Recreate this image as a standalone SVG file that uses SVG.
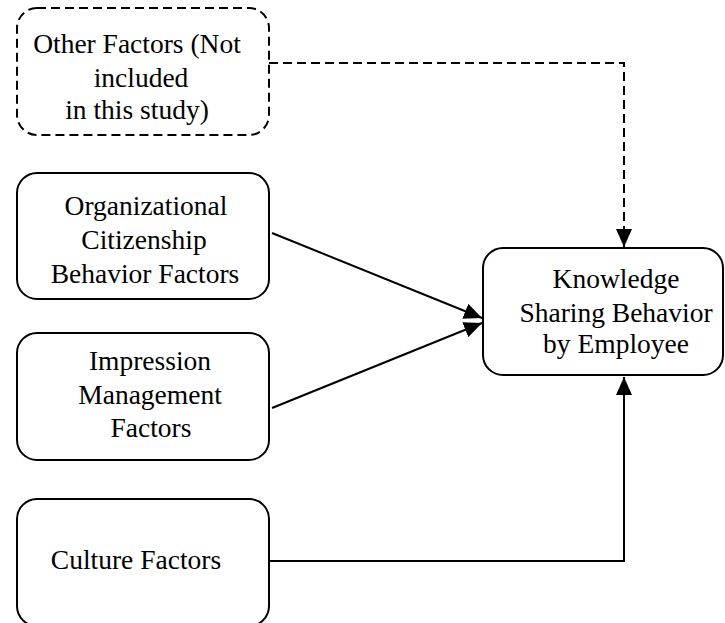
<svg xmlns="http://www.w3.org/2000/svg" width="725" height="623" viewBox="0 0 725 623">
<style>
.box{fill:#fff;stroke:#000;stroke-width:2}
.dash{stroke-dasharray:9,5}
.t{font-family:"Liberation Serif","Times New Roman",serif;font-size:27.5px;fill:#000;text-anchor:middle}
.c{fill:none;stroke:#000;stroke-width:2}
</style>
<defs>
<marker id="ah" markerWidth="18" markerHeight="16" refX="18" refY="8" orient="auto" markerUnits="userSpaceOnUse">
<path d="M0,0 L18,8 L0,16 Z" fill="#000"/>
</marker>
</defs>
<rect width="725" height="623" fill="#fff"/>
<g id="connectors">
<path class="c dash" d="M269,63 H624 V247" marker-end="url(#ah)"/>
<path class="c" d="M272,233 L482,318" marker-end="url(#ah)"/>
<path class="c" d="M272,408 L482,323" marker-end="url(#ah)"/>
<path class="c" d="M269,561 H624 V377" marker-end="url(#ah)"/>
</g>
<g id="other">
<rect class="box dash" x="17" y="8" width="252" height="127" rx="20"/>
<text class="t" x="137" y="53">Other Factors (Not</text>
<text class="t" x="141" y="87">included</text>
<text class="t" x="137" y="119">in this study)</text>
</g>
<g id="ocb">
<rect class="box" x="17" y="173" width="252" height="126" rx="20"/>
<text class="t" x="146" y="215">Organizational</text>
<text class="t" x="144" y="249">Citizenship</text>
<text class="t" x="145" y="283">Behavior Factors</text>
</g>
<g id="impression">
<rect class="box" x="17" y="333" width="252" height="127" rx="20"/>
<text class="t" x="150" y="370">Impression</text>
<text class="t" x="150" y="404">Management</text>
<text class="t" x="151" y="437">Factors</text>
</g>
<g id="culture">
<rect class="box" x="17" y="499" width="252" height="127" rx="20"/>
<text class="t" x="136" y="569">Culture Factors</text>
</g>
<g id="knowledge">
<rect class="box" x="483" y="248" width="240" height="127" rx="20"/>
<text class="t" x="616" y="288">Knowledge</text>
<text class="t" x="616" y="322">Sharing Behavior</text>
<text class="t" x="616" y="353">by Employee</text>
</g>
</svg>
